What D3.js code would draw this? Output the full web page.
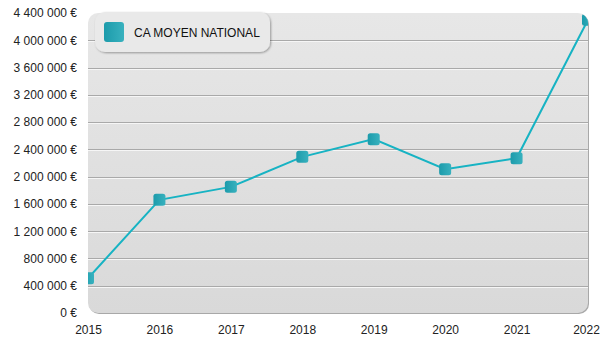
<!DOCTYPE html>
<html>
<head>
<meta charset="utf-8">
<script src="https://cdn.jsdelivr.net/npm/d3@7"></script>
<style>
  html, body { margin: 0; padding: 0; background: #fff; }
  svg { display: block; font-family: "Liberation Sans", Arial, sans-serif; }
</style>
</head>
<body>
<svg id="chart" width="600" height="350"></svg>
<script>
// Average national turnover per year
const years = ["2015", "2016", "2017", "2018", "2019", "2020", "2021", "2022"];
const caMoyen = [510000, 1660000, 1850000, 2290000, 2550000, 2110000, 2270000, 4300000];
const yTicks = [0, 400000, 800000, 1200000, 1600000, 2000000, 2400000, 2800000, 3200000, 3600000, 4000000, 4400000];
const seriesName = "CA MOYEN NATIONAL";

const W = 600, H = 350;
const margin = { left: 88, right: 12, top: 13, bottom: 37 };
const svg = d3.select("#chart");

const x = d3.scalePoint().domain(years).range([margin.left, W - margin.right]);
const y = d3.scaleLinear().domain([0, 4400000]).range([H - margin.bottom, margin.top]);

const defs = svg.append("defs");
const bg = defs.append("linearGradient").attr("id", "bgGrad").attr("x1", 0).attr("y1", 0).attr("x2", 0).attr("y2", 1);
bg.append("stop").attr("offset", "0%").attr("stop-color", "#e7e7e7");
bg.append("stop").attr("offset", "100%").attr("stop-color", "#d9d9d9");

const mk = defs.append("linearGradient").attr("id", "mkGrad").attr("x1", 0).attr("y1", 0).attr("x2", 1).attr("y2", 0);
mk.append("stop").attr("offset", "0%").attr("stop-color", "#1c9bab");
mk.append("stop").attr("offset", "100%").attr("stop-color", "#38b1be");

const x0 = margin.left, x1 = W - margin.right, yTop = y(4400000), yBot = y(0);

defs.append("clipPath").attr("id", "plotClip")
  .append("rect").attr("x", x0).attr("y", yTop).attr("width", x1 - x0).attr("height", yBot - yTop).attr("rx", 10);

const shadow = defs.append("filter").attr("id", "shadow").attr("x", "-10%").attr("y", "-10%").attr("width", "130%").attr("height", "140%");
shadow.append("feDropShadow").attr("dx", 1).attr("dy", 1).attr("stdDeviation", 0.8).attr("flood-color", "#000").attr("flood-opacity", 0.35);

// Plot background with a soft edge on the right and bottom
svg.append("rect")
  .attr("x", x0 + 1).attr("y", yTop + 1).attr("width", x1 - x0).attr("height", yBot - yTop)
  .attr("rx", 10).attr("fill", "#a8a8a8");
svg.append("rect")
  .attr("x", x0).attr("y", yTop).attr("width", x1 - x0).attr("height", yBot - yTop)
  .attr("rx", 10).attr("fill", "url(#bgGrad)");

// Embossed horizontal grid lines
const grid = svg.append("g");
yTicks.filter(v => v > 0 && v < 4400000).forEach(v => {
  const yy = Math.round(y(v)) + 0.5;
  grid.append("line").attr("x1", x0).attr("x2", x1).attr("y1", yy).attr("y2", yy)
    .attr("stroke", "#a9a9a9").attr("stroke-width", 1);
  grid.append("line").attr("x1", x0).attr("x2", x1).attr("y1", yy + 1).attr("y2", yy + 1)
    .attr("stroke", "#f6f6f6").attr("stroke-width", 1);
});

// Y axis labels
const fmt = v => d3.format(",")(v).replace(/,/g, " ") + " €";
const yAxis = d3.axisLeft(y).tickValues(yTicks).tickFormat(fmt).tickSize(0).tickPadding(11);
const gy = svg.append("g").attr("transform", `translate(${x0},0)`).call(yAxis);
gy.select(".domain").remove();
gy.selectAll("text").attr("font-size", 12).attr("fill", "#222").attr("font-family", "Liberation Sans, Arial, sans-serif");

// X axis labels (the last one is kept inside the page edge)
const xAxis = d3.axisBottom(x).tickSize(0).tickPadding(12);
const gx = svg.append("g").attr("transform", `translate(0,${yBot})`).call(xAxis);
gx.select(".domain").remove();
gx.selectAll("text").attr("font-size", 12).attr("fill", "#222").attr("font-family", "Liberation Sans, Arial, sans-serif");
gx.selectAll(".tick").filter(d => d === years[years.length - 1]).select("text").attr("dx", -2);

// Series line and markers
const data = years.map((yr, i) => ({ yr, v: caMoyen[i] }));
const plot = svg.append("g").attr("clip-path", "url(#plotClip)");
plot.append("path").datum(data)
  .attr("fill", "none").attr("stroke", "#17b3c3").attr("stroke-width", 2)
  .attr("d", d3.line().x(d => x(d.yr)).y(d => y(d.v)));
const ms = 12;
plot.selectAll("rect.pt").data(data).join("rect").attr("class", "pt")
  .attr("x", d => x(d.yr) - ms / 2).attr("y", d => y(d.v) - ms / 2)
  .attr("width", ms).attr("height", ms).attr("rx", 2.5)
  .attr("fill", "url(#mkGrad)");

// Legend
const lg = svg.append("g");
lg.append("rect").attr("x", 95).attr("y", 12).attr("width", 175).attr("height", 40).attr("rx", 10)
  .attr("fill", "#e9e9e9").attr("filter", "url(#shadow)");
lg.append("rect").attr("x", 104).attr("y", 22).attr("width", 20).attr("height", 20).attr("rx", 3)
  .attr("fill", "url(#mkGrad)");
lg.append("text").attr("x", 134).attr("y", 37).attr("font-size", 12).attr("fill", "#111")
  .text(seriesName);
</script>
</body>
</html>
